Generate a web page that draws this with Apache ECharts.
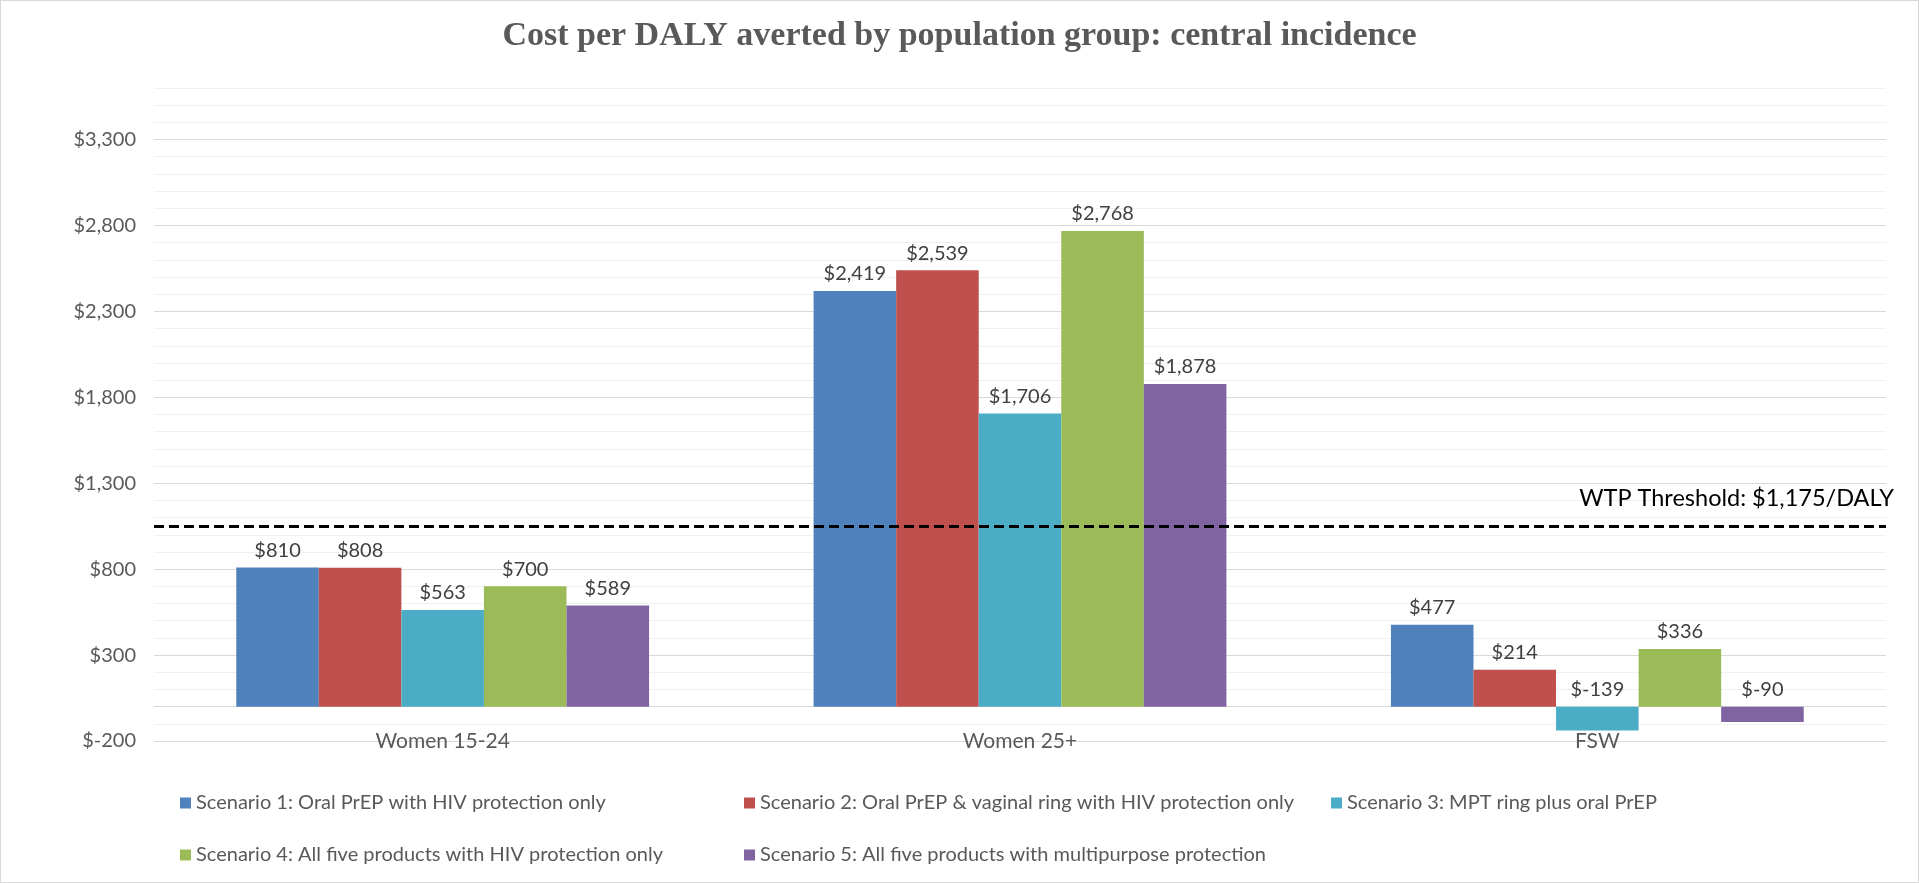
<!DOCTYPE html>
<html>
<head>
<meta charset="utf-8">
<title>Cost per DALY averted</title>
<script src="https://cdn.jsdelivr.net/npm/echarts@6/dist/echarts.min.js"></script>
<style>
  html, body { margin: 0; padding: 0; background: #fff; }
  #chart {
    width: 1919px;
    height: 883px;
    box-sizing: border-box;
    border: 1px solid #d9d9d9;
  }
</style>
</head>
<body>
<div id="chart"></div>
<script>
  // data
  var categories = ['Women 15-24', 'Women 25+', 'FSW'];
  var scenarioNames = [
    'Scenario 1: Oral PrEP with HIV protection only',
    'Scenario 2: Oral PrEP & vaginal ring with HIV protection only',
    'Scenario 3: MPT ring plus oral PrEP',
    'Scenario 4: All five products with HIV protection only',
    'Scenario 5: All five products with multipurpose protection'
  ];
  var scenario1 = [810, 2419, 477];
  var scenario2 = [808, 2539, 214];
  var scenario3 = [563, 1706, -139];
  var scenario4 = [700, 2768, 336];
  var scenario5 = [589, 1878, -90];
  var yTicks = [-200, 300, 800, 1300, 1800, 2300, 2800, 3300];
  var thresholdLine = 1050;   // where the dashed line sits in the picture
  var thresholdText = 'WTP Threshold: $1,175/DALY';

  var colors = ['#4F81BD', '#C0504D', '#4BACC6', '#9BBB59', '#8064A2'];
  var allValues = [scenario1, scenario2, scenario3, scenario4, scenario5];

  // legend layout (Excel put items 1/4 and 2/5 in columns, item 3 trailing)
  var legendSpots = [
    { left: 179, top: 792 },
    { left: 743, top: 792 },
    { left: 1330, top: 792 },
    { left: 179, top: 844 },
    { left: 743, top: 844 }
  ];

  function money(v) {
    return '$' + v.toLocaleString('en-US');
  }

  var chart = echarts.init(document.getElementById('chart'));

  var series = allValues.map(function (vals, i) {
    var s = {
      name: scenarioNames[i],
      type: 'bar',
      data: vals,
      itemStyle: { color: colors[i] },
      barGap: '0%',
      barCategoryGap: '28.5%',
      label: {
        show: true,
        position: 'top',
        distance: 7,
        color: '#404040',
        fontFamily: 'Lato',
        fontSize: 20,
        formatter: function (p) { return money(p.value); }
      }
    };
    if (i === 0) {
      s.markLine = {
        silent: true,
        symbol: ['none', 'none'],
        lineStyle: { color: '#000', width: 3, type: [10, 5] },
        label: {
          show: true,
          position: 'insideEndTop',
          distance: 16,
          offset: [24, 0],
          color: '#000',
          fontFamily: 'Lato',
          fontSize: 23.5,
          formatter: thresholdText
        },
        data: [{ yAxis: thresholdLine }]
      };
    }
    return s;
  });

  chart.setOption({
    backgroundColor: '#fff',
    animation: false,
    title: {
      text: 'Cost per DALY averted by population group: central incidence',
      left: 'center',
      top: 13,
      textStyle: {
        fontFamily: 'Liberation Serif',
        fontWeight: 'bold',
        fontSize: 34,
        color: '#595959'
      }
    },
    legend: legendSpots.map(function (pos, i) {
      return {
        data: [scenarioNames[i]],
        left: pos.left,
        top: pos.top,
        padding: 0,
        icon: 'rect',
        itemWidth: 11,
        itemHeight: 11,
        selectedMode: false,
        textStyle: { fontFamily: 'Lato', fontSize: 20, color: '#595959' }
      };
    }),
    grid: {
      left: 153,
      right: 32,
      top: 87,
      bottom: 141,
      containLabel: false
    },
    xAxis: {
      type: 'category',
      data: categories,
      axisLine: { show: true, onZero: true, lineStyle: { color: '#d9d9d9', width: 1 } },
      axisTick: { show: false },
      // labels stay at the grid edge, pull them up into the -200..0 band
      axisLabel: { margin: -10, color: '#595959', fontFamily: 'Lato', fontSize: 21 },
      splitLine: { show: false }
    },
    yAxis: {
      type: 'value',
      min: yTicks[0],
      max: 3600,
      interval: 100,
      axisLine: { show: false },
      axisTick: { show: false },
      axisLabel: {
        margin: 18,
        color: '#595959',
        fontFamily: 'Lato',
        fontSize: 20,
        formatter: function (v) { return yTicks.indexOf(v) >= 0 ? money(v) : ''; }
      },
      // every fifth line (the labelled ones) is darker
      splitLine: {
        show: true,
        lineStyle: { color: ['#d9d9d9', '#f0f0f0', '#f0f0f0', '#f0f0f0', '#f0f0f0'], width: 1 }
      }
    },
    series: series
  });
</script>
</body>
</html>
